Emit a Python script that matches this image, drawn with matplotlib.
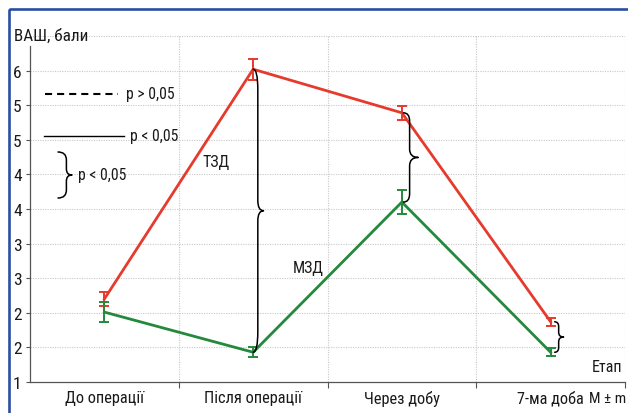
import matplotlib
matplotlib.use("Agg")
import matplotlib.pyplot as plt
from matplotlib.path import Path
from matplotlib.patches import PathPatch, Rectangle
from matplotlib.lines import Line2D
from matplotlib.transforms import Affine2D

plt.rcParams['font.family'] = ['Liberation Sans Narrow', 'Roboto Condensed', 'DejaVu Sans']
plt.rcParams['font.stretch'] = 'condensed'

# Pain score (VAS) by stage, mean ± error
stages = ['До операції', 'Після операції', 'Через добу', '7-ма доба']
tzd_mean = [2.20, 5.52, 4.89, 1.87]
tzd_err = [0.10, 0.15, 0.10, 0.06]
mzd_mean = [2.01, 1.43, 3.60, 1.43]
mzd_err = [0.14, 0.07, 0.17, 0.06]

y_ticks = [1.0, 1.5, 2.0, 2.5, 3.0, 3.5, 4.0, 4.5, 5.0, 5.5, 6.0]
y_tick_labels = ['1', '2', '2', '3', '3', '4', '4', '5', '5', '6', '']

RED = '#e63a2c'
GREEN = '#24893c'
BLUE = '#2b4ea2'
TXT = '#1a1a1a'

W, H = 628, 414
fig = plt.figure(figsize=(W / 100, H / 100), dpi=100)
# figure pixel coordinates, origin at top-left
px = Affine2D().scale(1 / W, -1 / H).translate(0, 1) + fig.transFigure

ax = fig.add_axes([30 / W, (H - 383) / H, (625 - 30) / W, (383 - 37) / H])
x = list(range(len(stages)))

ax.set_xlim(-0.5, 3.5)
ax.set_ylim(1, 6)

# grid
for yv in y_ticks[1:]:
    ax.axhline(yv, color='#c8c8c8', lw=0.8, ls=(0, (1, 1.2)), zorder=0)
for xv in [0.5, 1.5, 2.5, 3.5]:
    ax.axvline(xv, color='#c8c8c8', lw=0.8, ls=(0, (1, 1.2)), zorder=0)

for s in ['top', 'right']:
    ax.spines[s].set_visible(False)
for s in ['left', 'bottom']:
    ax.spines[s].set_color('#555555')
    ax.spines[s].set_linewidth(0.9)
ax.spines['left'].set_bounds(1, 5.85)

ax.set_yticks(y_ticks)
ax.set_yticklabels(y_tick_labels)
ax.tick_params(axis='y', length=3, width=0.8, color='#555555', pad=3,
               labelsize=12.5, labelcolor=TXT)
ax.yaxis.get_major_ticks()[-1].tick1line.set_visible(False)
ax.set_xticks(x)
ax.set_xticklabels(stages)
ax.set_xticks([0.5, 1.5, 2.5, 3.5], minor=True)
ax.tick_params(axis='x', which='major', length=0, pad=6, labelsize=11.8,
               labelcolor=TXT)
ax.tick_params(axis='x', which='minor', length=4, width=0.8, color='#555555')

# series
ax.errorbar(x, tzd_mean, yerr=tzd_err, color=RED, lw=2.0, elinewidth=1.4,
            capsize=3.5, capthick=1.4, zorder=3)
ax.errorbar(x, mzd_mean, yerr=mzd_err, color=GREEN, lw=2.0, elinewidth=1.4,
            capsize=3.5, capthick=1.4, zorder=3)


def brace(axis, x0, top, bot, w, r_end, r_tip, f=0.45, transform=None, lw=1.1):
    """Curly brace between y=top and y=bot, opening left, tip pointing right."""
    sgn = 1 if bot > top else -1
    mid = (top + bot) / 2
    xm = x0 + f * w
    verts = [
        (x0, top),
        (xm, top), (xm, top + sgn * r_end),
        (xm, mid - sgn * r_tip),
        (xm, mid), (x0 + w, mid),
        (xm, mid), (xm, mid + sgn * r_tip),
        (xm, bot - sgn * r_end),
        (xm, bot), (x0, bot),
    ]
    codes = [Path.MOVETO,
             Path.CURVE3, Path.CURVE3,
             Path.LINETO,
             Path.CURVE3, Path.CURVE3,
             Path.CURVE3, Path.CURVE3,
             Path.LINETO,
             Path.CURVE3, Path.CURVE3]
    patch = PathPatch(Path(verts, codes), fill=False, lw=lw, color='black',
                      transform=transform if transform is not None else axis.transData,
                      zorder=4, capstyle='round', joinstyle='round')
    if transform is not None:
        fig.add_artist(patch)
    else:
        axis.add_patch(patch)


# significance braces between the series
brace(ax, 1.0, tzd_mean[1], mzd_mean[1], 0.07, 0.30, 0.15, f=0.45)
brace(ax, 2.01, tzd_mean[2], mzd_mean[2], 0.10, 0.12, 0.12, f=0.42)
brace(ax, 3.027, tzd_mean[3], mzd_mean[3], 0.06, 0.07, 0.07, f=0.45)

# series labels
fig.text(216 / W, 1 - 163 / H, 'ТЗД', fontsize=11.5, ha='center', va='center', color=TXT)
fig.text(308 / W, 1 - 268 / H, 'МЗД', fontsize=11.5, ha='center', va='center', color=TXT)

# key for line styles and braces
fig.add_artist(Line2D([45, 118], [95, 95], transform=px, color='black', lw=1.5,
                      dashes=(3.4, 2.4)))
fig.text(126 / W, 1 - 95 / H, 'p > 0,05', fontsize=11.3, ha='left', va='center', color=TXT)
fig.add_artist(Line2D([44, 124], [137, 137], transform=px, color='black', lw=1.0))
fig.text(130 / W, 1 - 137 / H, 'p < 0,05', fontsize=11.3, ha='left', va='center', color=TXT)
brace(None, 58, 153, 199, 14, 8, 6, f=0.6, transform=px, lw=1.1)
fig.text(78 / W, 1 - 176 / H, 'p < 0,05', fontsize=11.3, ha='left', va='center', color=TXT)

# axis titles
fig.text(14 / W, 1 - 36 / H, 'ВАШ, бали', fontsize=12.3, ha='left', va='center', color=TXT)
fig.text(622 / W, 1 - 368 / H, 'Етап', fontsize=11.5, ha='right', va='center', color=TXT)
fig.text(626 / W, 1 - 399 / H, 'M ± m', fontsize=11, ha='right', va='center', color=TXT)

# outer frame
fig.add_artist(Rectangle((9, 9.5), 800, 600, transform=px, fill=False,
                         edgecolor=BLUE, lw=1.9))

fig.savefig('out.png', dpi=100)
